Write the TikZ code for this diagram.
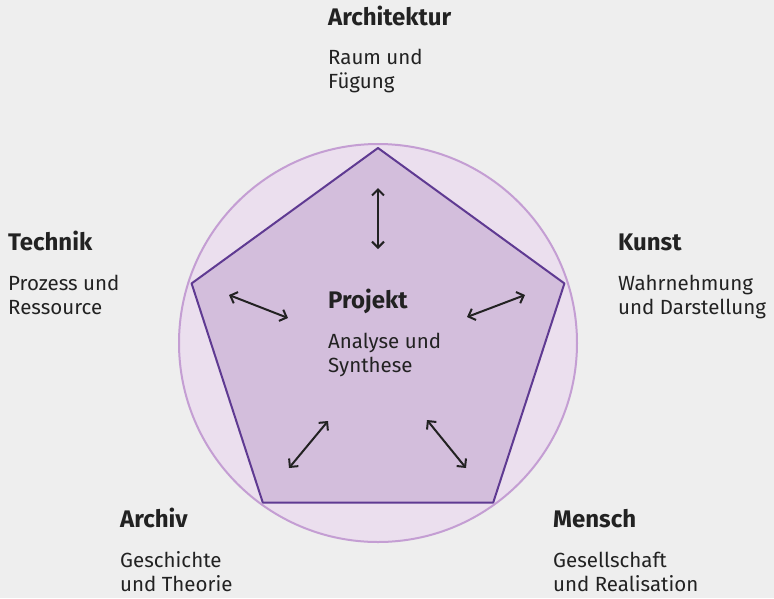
\documentclass[tikz,border=0pt]{standalone}
\usepackage{fontspec}
\setmainfont{Fira Sans}
\usetikzlibrary{arrows.meta}
\usetikzlibrary{calc}
\definecolor{bgrey}{HTML}{EEEEEE}
\definecolor{ringfill}{HTML}{EBDFEE}
\definecolor{ringline}{HTML}{C49ED3}
\definecolor{pentfill}{HTML}{D3BEDC}
\definecolor{pentline}{HTML}{5F3A92}
\definecolor{ink}{HTML}{222222}
\tikzset{heading/.style = {anchor=base west, inner sep=0, text=ink, font=\fontsize{24}{26}\selectfont\bfseries}}
\tikzset{subline/.style = {anchor=base west, inner sep=0, text=ink, align=left, font=\fontsize{20.5}{24}\selectfont}}
\tikzset{link/.style = {{Straight Barb[length=6pt,width=12pt]}-{Straight Barb[length=6pt,width=12pt]}, line width=2pt, draw=ink}}

\begin{document}
\begin{tikzpicture}[x=1pt, y=-1pt]
    \fill [bgrey] (0, 0) rectangle (774, 598);
    \useasboundingbox (0, 0) rectangle (774, 598);

    \coordinate (mid) at (378, 344);
    \draw [ringline, fill=ringfill, line width=2pt] (378, 343) circle [radius=199];
    \foreach \i/\a in {1/270, 2/342, 3/54, 4/126, 5/198}
      \coordinate (p\i) at ($(mid) + (\a:196)$);
    \draw [pentline, fill=pentfill, line width=2pt, line join=round]
      (p1) -- (p2) -- (p3) -- (p4) -- (p5) -- cycle;

    % labels (sublines sit on the baseline of their last line)
    \node [heading] (architektur) at (328, 25) {Architektur};
    \node [subline] (architektur-text) at (328, 88) {Raum und\\Fügung};
    \node [heading] (technik) at (8, 250) {Technik};
    \node [subline] (technik-text) at (8, 314) {Prozess und\\Ressource};
    \node [heading] (kunst) at (618, 250) {Kunst};
    \node [subline] (kunst-text) at (618, 314) {Wahrnehmung\\und Darstellung};
    \node [heading] (projekt) at (328, 308) {Projekt};
    \node [subline] (projekt-text) at (328, 372) {Analyse und\\Synthese};
    \node [heading] (archiv) at (120, 527) {Archiv};
    \node [subline] (archiv-text) at (120, 591) {Geschichte\\und Theorie};
    \node [heading] (mensch) at (553, 527) {Mensch};
    \node [subline] (mensch-text) at (553, 591) {Gesellschaft\\und Realisation};

    % arrows
    \coordinate (a1) at (378, 188);   \coordinate (b1) at (378, 249);
    \coordinate (a2) at (229, 295);   \coordinate (b2) at (288, 318);
    \coordinate (a3) at (525, 295);   \coordinate (b3) at (467, 317);
    \coordinate (a4) at (328, 421);   \coordinate (b4) at (289, 468);
    \coordinate (a5) at (427, 420);   \coordinate (b5) at (466, 468);
    \foreach \i in {1, ..., 5}
      \draw [link] (a\i) -- (b\i);
  \end{tikzpicture}
\end{document}
